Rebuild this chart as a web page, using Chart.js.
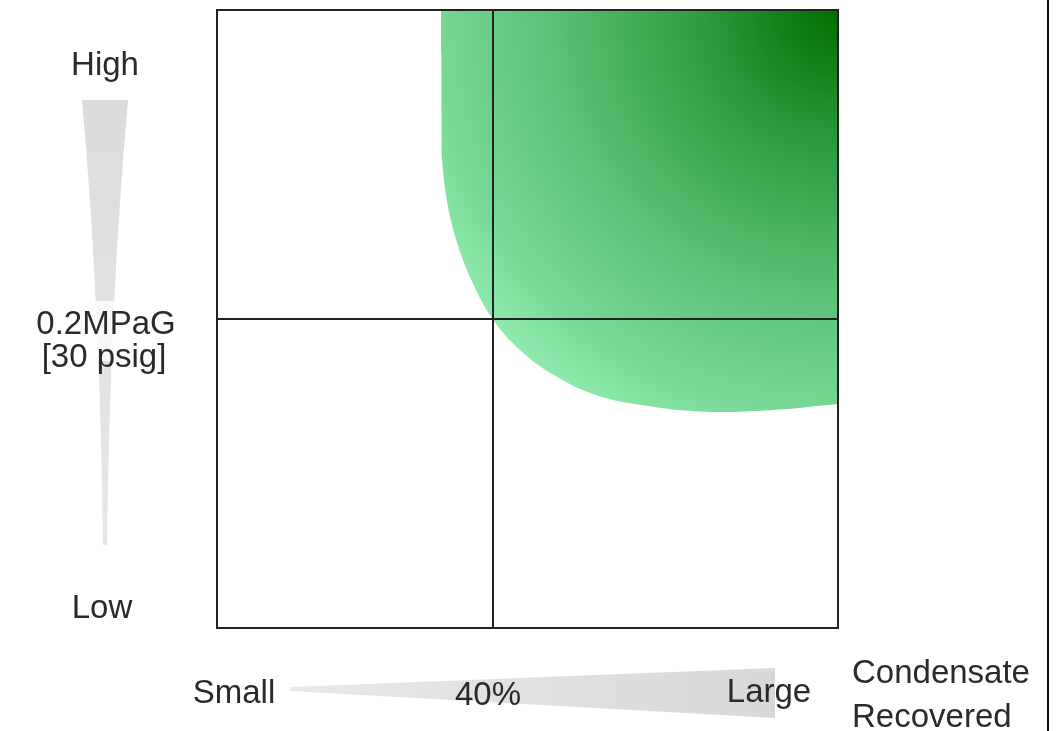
<!DOCTYPE html>
<html>
<head>
<meta charset="utf-8">
<script src="https://cdn.jsdelivr.net/npm/chart.js@4.4.1/dist/chart.umd.min.js"></script>
<style>
  html, body { margin: 0; padding: 0; background: #fff; }
  #wrap { width: 1063px; height: 731px; position: relative; }
</style>
</head>
<body>
<div id="wrap"><canvas id="myChart"></canvas></div>
<script>
// axis ranges: x = condensate recovered (%), y = steam pressure (MPaG)
var xRange = [0, 90];
var yRange = [0, 0.4];
var dividerX = 40;
var dividerY = 0.2;

// boundary of the recommended (green) zone
var zoneX = [32.5, 32.0, 32.0, 32.5, 33.3, 34.9, 37.2, 40.1, 43.9, 48.7, 54.8, 62.0, 70.7, 80.1, 90];
var zoneY = [0.400, 0.371, 0.342, 0.309, 0.277, 0.248, 0.222, 0.199, 0.180, 0.164, 0.151, 0.144, 0.140, 0.141, 0.145];

var labelFont = '33px "Liberation Sans", Arial, sans-serif';
var textColor = '#2a2a2a';

var zonePoints = zoneX.map(function (x, i) { return { x: x, y: zoneY[i] }; });

function zoneFill(context) {
    var ca = context.chart.chartArea;
    if (!ca) return 'rgba(0,150,0,0.5)';
    var c = context.chart.ctx;
    var g = c.createRadialGradient(ca.right, ca.top, 0, ca.right, ca.top, 480);
    g.addColorStop(0, '#006e00');
    g.addColorStop(0.3, '#2f9e42');
    g.addColorStop(0.6, '#5cc276');
    g.addColorStop(0.82, '#76d693');
    g.addColorStop(1, '#92eeb2');
    return g;
}

function label(c, text, x, y, align) {
    c.textAlign = align || 'center';
    c.fillText(text, x, y);
}

var decorations = {
    id: 'decorations',
    beforeDatasetsDraw: function (chart) {
        var c = chart.ctx;
        c.save();
        // vertical pressure wedge
        var vg = c.createLinearGradient(0, 100, 0, 545);
        vg.addColorStop(0, '#dcdcdc');
        vg.addColorStop(1, '#e6e6e6');
        c.fillStyle = vg;
        c.beginPath();
        c.moveTo(82, 100);
        c.lineTo(128, 100);
        c.quadraticCurveTo(110, 300, 107, 545);
        c.lineTo(103, 545);
        c.quadraticCurveTo(100, 300, 82, 100);
        c.closePath();
        c.fill();
        // horizontal condensate wedge
        var hg = c.createLinearGradient(290, 0, 775, 0);
        hg.addColorStop(0, '#e8e8e8');
        hg.addColorStop(1, '#d8d8d8');
        c.fillStyle = hg;
        c.beginPath();
        c.moveTo(290, 687);
        c.lineTo(775, 668);
        c.lineTo(775, 718);
        c.lineTo(290, 691);
        c.closePath();
        c.fill();
        c.restore();
    },
    afterDatasetsDraw: function (chart) {
        var c = chart.ctx;
        var ca = chart.chartArea;
        var xs = chart.scales.x;
        var ys = chart.scales.y;
        var px = Math.round(xs.getPixelForValue(dividerX));
        var py = Math.round(ys.getPixelForValue(dividerY));
        c.save();
        c.strokeStyle = '#222';
        c.lineWidth = 2;
        c.beginPath();
        c.moveTo(px, ca.top);
        c.lineTo(px, ca.bottom);
        c.moveTo(ca.left, py);
        c.lineTo(ca.right, py);
        c.stroke();
        c.strokeRect(ca.left, ca.top, ca.right - ca.left, ca.bottom - ca.top);
        // right frame line
        c.fillStyle = '#111';
        c.fillRect(1047, 0, 2, 731);

        c.font = labelFont;
        c.textBaseline = 'alphabetic';
        // light boxes behind the pressure label
        c.fillStyle = 'rgba(255,255,255,0.75)';
        c.fillRect(22, py - 18, 170, 60);
        c.fillStyle = textColor;
        label(c, 'High', 105, 75);
        label(c, '0.2MPaG', 106, py + 15);
        label(c, '[30 psig]', 104, py + 48);
        label(c, 'Low', 102, 618);
        label(c, 'Small', 234, 703);
        label(c, dividerX + '%', px - 5, 705);
        label(c, 'Large', 769, 702);
        label(c, 'Condensate', 852, 683, 'left');
        label(c, 'Recovered', 852, 727, 'left');
        c.restore();
    }
};

var ctx = document.getElementById('myChart');

var data = {
    datasets: [{
        data: zonePoints,
        showLine: true,
        fill: 'end',
        backgroundColor: zoneFill,
        borderWidth: 0,
        borderColor: 'rgba(0,0,0,0)',
        pointRadius: 0,
        tension: 0.4
    }]
};

var config = {
    type: 'scatter',
    data: data,
    options: {
        responsive: true,
        maintainAspectRatio: false,
        animation: false,
        layout: { padding: { left: 217, top: 10, right: 225, bottom: 103 } },
        plugins: { legend: { display: false }, tooltip: { enabled: false } },
        scales: {
            x: {
                type: 'linear', min: xRange[0], max: xRange[1],
                display: false
            },
            y: {
                type: 'linear', min: yRange[0], max: yRange[1],
                display: false
            }
        }
    },
    plugins: [decorations]
};

var myChart = new Chart(ctx, config);
</script>
</body>
</html>
